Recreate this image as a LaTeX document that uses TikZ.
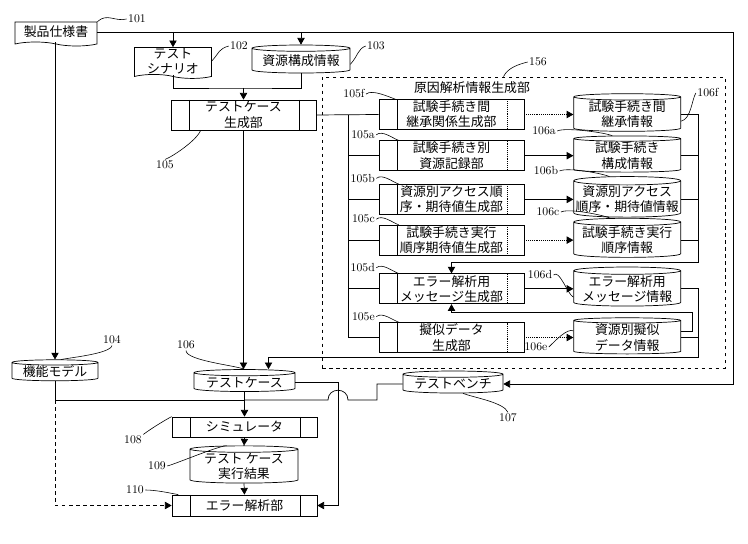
\documentclass[tikz,border=0pt]{standalone}
\usepackage{fontspec}
\newfontfamily\jpfont{Noto Sans CJK JP}
\usetikzlibrary{arrows.meta,positioning,shapes.geometric,shapes.symbols,calc}

\begin{document}
\begin{tikzpicture}[
    x=0.03cm, y=-0.03cm,
    line width=0.6pt,
    jtext/.style={font=\jpfont\fontsize{11}{13}\selectfont, align=center, inner sep=0.5pt},
    num/.style={font=\fontsize{10}{12}\selectfont, inner sep=1pt},
    docbox/.style={jtext, tape, draw, tape bend top=none, tape bend bottom=out and in, tape bend height=1.2mm},
    store/.style={jtext, cylinder, draw, shape border rotate=90, aspect=0.08},
    bands/.style={path picture={
        \draw ([xshift=0.54cm]path picture bounding box.north west) -- ([xshift=0.54cm]path picture bounding box.south west);
        \draw[#1] ([xshift=-0.51cm]path picture bounding box.north east) -- ([xshift=-0.51cm]path picture bounding box.south east);}},
    procbox/.style={jtext, rectangle, draw, minimum width=4.35cm, minimum height=0.9cm},
    infobox/.style={store, minimum width=3.21cm, minimum height=0.9cm},
    arrow/.style={-{Triangle[length=2mm,width=2.2mm]}},
    lead/.style={line width=0.5pt}
  ]
  \useasboundingbox (0,0) rectangle (748,544);

  % Inputs
  \node[docbox, minimum width=2.46cm, minimum height=0.72cm] (spec) at (56,32) {製品仕様書};
  \node[num] (n101) at (137,19) {101};
  \node[docbox, minimum width=2.31cm, minimum height=0.9cm] (scen) at (173,61) {テスト\\シナリオ};
  \node[num] (n102) at (239,46) {102};
  \node[store, minimum width=2.94cm, minimum height=0.84cm] (rsrc) at (301,61) {資源構成情報};
  \node[num] (n103) at (376,46) {103};
  \node[procbox, bands=solid] (tcg) at (243.5,115) {テストケース\\生成部};
  \node[num] (n105) at (165,165) {105};

  % Cause analysis information generator
  \node[draw, dashed, minimum width=12.09cm, minimum height=8.73cm] (gen) at (523.5,222.5) {};
  \node[jtext] (gentitle) at (472,88) {原因解析情報生成部};
  \node[num] (n156) at (538,62) {156};

  \node[procbox, bands=densely dotted] (gf) at (451.5,114.5) {試験手続き間\\継承関係生成部};
  \node[procbox, bands=densely dotted, below=0.315cm of gf] (ga) {試験手続き別\\資源記録部};
  \node[procbox, bands=densely dotted, below=0.39cm of ga] (gb) {資源別アクセス順\\序・期待値生成部};
  \node[procbox, bands=densely dotted, below=0.3cm of gb] (gc) {試験手続き実行\\順序期待値生成部};
  \node[procbox, bands=densely dotted, below=0.54cm of gc] (gd) {エラー解析用\\メッセージ生成部};
  \node[procbox, bands=densely dotted, below=0.54cm of gd] (ge) {擬似データ\\生成部};

  \node[infobox, right=1.47cm of gf] (rf) {試験手続き間\\継承情報};
  \node[infobox, right=1.47cm of ga] (ra) {試験手続き\\構成情報};
  \node[infobox, right=1.47cm of gb] (rb) {資源別アクセス\\順序・期待値情報};
  \node[infobox, right=1.47cm of gc] (rc) {試験手続き実行\\順序情報};
  \node[infobox, right=1.47cm of gd] (rd) {エラー解析用\\メッセージ情報};
  \node[infobox, right=1.47cm of ge] (re) {資源別擬似\\データ情報};

  \node[num] (n105f) at (354,94) {105f};
  \node[num, above left=0pt and 2pt of ga.north west] (n105a) {105a};
  \node[num, above left=0pt and 2pt of gb.north west] (n105b) {105b};
  \node[num, above left=0pt and 2pt of gc.north west] (n105c) {105c};
  \node[num, above left=0pt and 2pt of gd.north west] (n105d) {105d};
  \node[num, above left=0pt and 2pt of ge.north west] (n105e) {105e};
  \node[num] (n106f) at (708,93) {106f};
  \node[num] (n106a) at (544,131) {106a};
  \node[num] (n106b) at (546,171) {106b};
  \node[num] (n106c) at (548,212) {106c};
  \node[num] (n106d) at (540,275) {106d};
  \node[num] (n106e) at (536,347) {106e};

  % Test execution
  \node[store, minimum width=2.58cm, minimum height=0.6cm] (func) at (55,372) {機能モデル};
  \node[num] (n104) at (112,340) {104};
  \node[store, minimum width=3.03cm, minimum height=0.66cm] (tc) at (244.5,382.5) {テストケース};
  \node[num] (n106) at (186,345) {106};
  \node[store, minimum width=3.0cm, minimum height=0.66cm] (bench) at (453,384) {テストベンチ};
  \node[num] (n107) at (508,418) {107};
  \node[procbox, bands=solid, minimum height=0.6cm] (sim) at (244.5,427) {シミュレータ};
  \node[num] (n108) at (133,440) {108};
  \node[store, minimum width=3.24cm, minimum height=0.99cm] (res) at (244,466.5) {テスト\ ケース\\実行結果};
  \node[num] (n109) at (157,466) {109};
  \node[procbox, bands=solid, minimum height=0.63cm] (err) at (244.5,505.5) {エラー解析部};
  \node[num] (n110) at (135,490) {110};

  % Leaders
  \draw[lead] (spec.north east) .. controls +(10,-9) and +(-12,3) .. (n101.west);
  \draw[lead] (scen.east) .. controls +(8,-9) and +(-10,3) .. (n102.west);
  \draw[lead] ([yshift=-0.1cm]rsrc.east) .. controls +(8,-9) and +(-8,3) .. (n103.west);
  \draw[lead] ([xshift=0.9cm]tcg.south west) .. controls +(-4,10) and +(8,-3) .. (n105.north);
  \draw[lead] ([xshift=-0.6cm]gen.north) .. controls +(4,-9) and +(-8,2) .. (n156.west);
  \draw[lead] (n105f.east) .. controls +(6,-5) and +(-6,-2) .. ([xshift=0.5cm]gf.north west);
  \foreach \g in {a,b,c,d,e}
    \draw[lead] (n105\g.east) .. controls +(6,-5) and +(-6,-2) .. ([xshift=0.6cm]g\g.north west);
  \draw[lead] ([yshift=-0.2cm]rf.east) .. controls +(10,-2) and +(-4,6) .. (n106f.west);
  \draw[lead] (n106a.east) .. controls +(8,-4) and +(-6,-3) .. ([xshift=0.15cm]ra.north west);
  \draw[lead] (n106b.east) .. controls +(8,-4) and +(-6,-3) .. ([xshift=0.15cm]rb.north west);
  \draw[lead] (n106c.east) .. controls +(8,-4) and +(-6,-3) .. ([xshift=0.15cm]rc.north west);
  \draw[lead] (n106d.east) .. controls +(6,-6) and +(-6,-3) .. ([yshift=-0.25cm]rd.west);
  \draw[lead] (n106e.east) .. controls +(6,-6) and +(-6,-3) .. ([yshift=0.2cm]re.west);
  \draw[lead] (n104.south) .. controls +(-2,8) and +(10,-2) .. ([xshift=-0.2cm]func.north east);
  \draw[lead] (n106.south) .. controls +(0,10) and +(-10,-4) .. ([xshift=0.4cm]tc.north west);
  \draw[lead] (n107.north) .. controls +(-4,-10) and +(10,4) .. ([xshift=0.3cm]bench.south);
  \draw[lead] (n108.north east) .. controls +(8,-6) and +(-6,3) .. (sim.north west);
  \draw[lead] (n109.east) .. controls +(8,-2) and +(-8,0) .. ([xshift=0.1cm]res.north west);
  \draw[lead] (n110.east) .. controls +(10,0) and +(-10,-2) .. ([xshift=0.2cm]err.north west);

  % Specification to all inputs
  \coordinate (sr) at (733,32);
  \draw[arrow] (spec.east) -- (sr) |- (bench.east);
  \draw[arrow] (spec.east -| scen.north) -- (scen.north);
  \draw[arrow] (spec.east -| rsrc.north) -- (rsrc.north);
  \draw[arrow] (spec.south -| func.north) -- (func.north);

  % Scenario and resources to generator
  \coordinate (mrg) at (243.5,88);
  \draw (scen.south) |- (mrg) -| (rsrc.south);
  \draw[arrow] (mrg) -- (tcg.north);

  % Generator bus
  \coordinate (bus) at (348,115);
  \draw (tcg.east) -- (gf.west);
  \draw (bus) |- (ge.west);
  \foreach \g in {ga,gb,gc,gd}
    \draw (bus |- \g.west) -- (\g.west);
  \foreach \g/\r/\s in {gf/rf/densely dotted, ga/ra/solid, gb/rb/solid, gc/rc/densely dotted, gd/rd/solid, ge/re/densely dotted}
    \draw[arrow, \s] (\g.east) -- (\r.west);

  % Collected information
  \coordinate (cb1) at (698,262);
  \draw[arrow] (rf.east) -| (cb1) -| (gd.north);
  \foreach \r in {ra,rb,rc}
    \draw (\r.east) -- (\r.east -| cb1);
  \coordinate (cb2) at (698,357);
  \draw[arrow] (rd.east) -| (cb2) -| ([xshift=0.72cm]tc.north);
  \draw (re.east) -- (re.east -| cb2);
  \coordinate (lp) at (692,312);
  \draw[arrow] ([yshift=0.2cm]re.east) -| (lp) -| (gd.south);

  % Main flow
  \draw[arrow] (tcg.south) -- (tcg.south |- tc.north);
  \draw[arrow] (tc.south) -- (sim.north);
  \draw[arrow] (sim.south) -- (res.north);
  \draw[arrow] (res.south) -- (err.north);

  % Function model
  \coordinate (fj) at (55,400);
  \draw (func.south) -- (fj) -- (fj -| tc.south);
  \draw[arrow, dashed] (fj) |- (err.west);

  % Test bench with hop
  \coordinate (bj) at (377,400);
  \coordinate (hop) at (338,400);
  \draw (bench.west) -| (bj) -- ([xshift=0.3cm]hop) .. controls +(0,-13) and +(0,-13) .. ([xshift=-0.3cm]hop) -- (hop -| tc.south);

  % Test case to error analysis
  \coordinate (tj) at (338,383);
  \draw[arrow] (tc.east) -- (tc.east -| tj) |- (err.east);
\end{tikzpicture}
\end{document}
